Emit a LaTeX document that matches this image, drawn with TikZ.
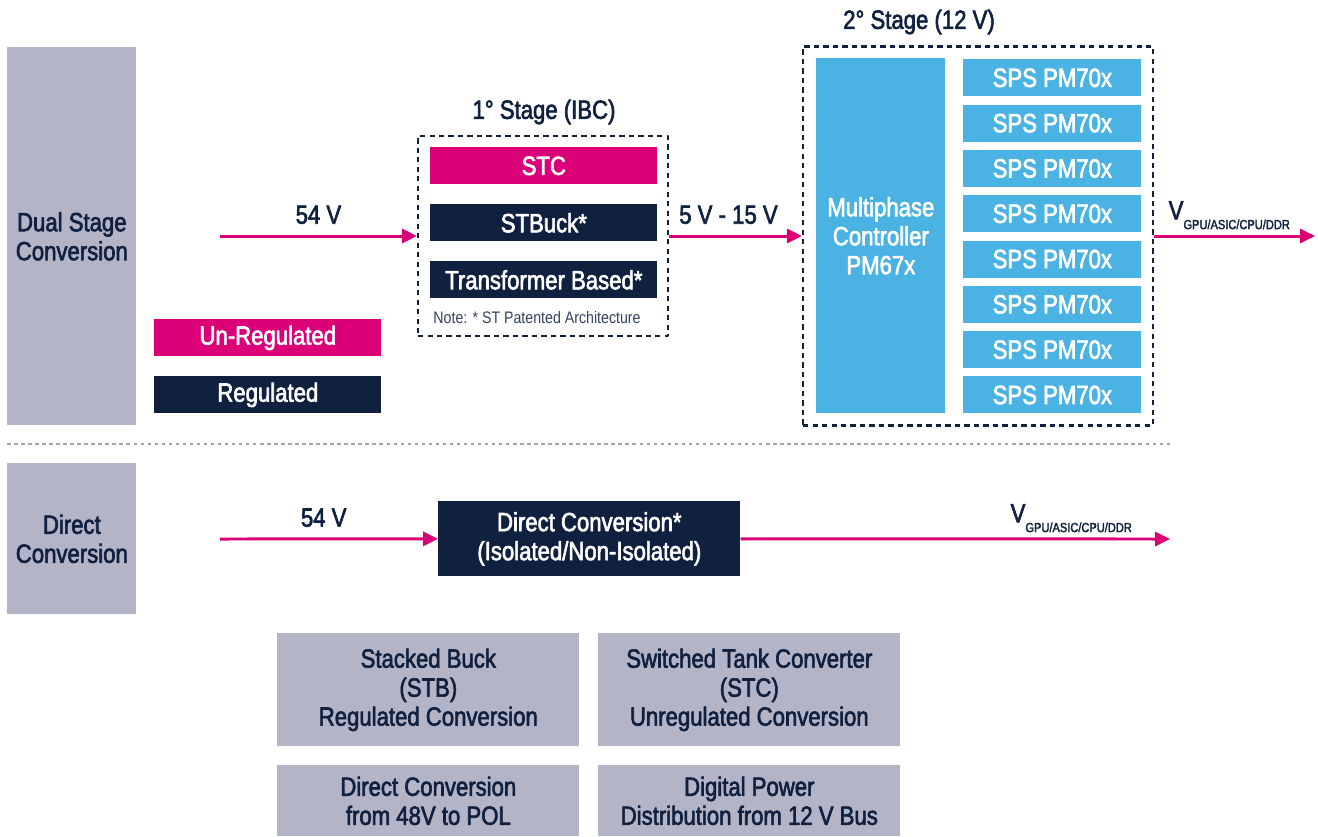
\documentclass[tikz,border=0pt]{standalone}
\usepackage{fontspec}
\setmainfont[FakeStretch=0.84,FakeBold=2.3]{Liberation Sans}
\newfontfamily\notefont[FakeStretch=0.85]{Liberation Sans}
\usetikzlibrary{arrows.meta,positioning}
\definecolor{stgray}{HTML}{B3B4C6}
\definecolor{stpink}{HTML}{DC0078}
\definecolor{stnavy}{HTML}{10213F}
\definecolor{stblue}{HTML}{4BB3E3}
\definecolor{sepgray}{HTML}{A3A3A8}
\begin{document}
\begin{tikzpicture}[x=0.02cm,y=-0.02cm,line join=round,
	txt/.style={font=\fontsize{15}{16.5}\selectfont,text=stnavy,align=center,inner sep=0pt},
	side/.style={txt,fill=stgray,anchor=north west,minimum width=2.58cm},
	bar/.style={txt,text=white,anchor=north west,minimum width=4.54cm,minimum height=0.74cm},
	sps/.style={txt,text=white,fill=stblue,anchor=north west,minimum width=3.56cm,minimum height=0.74cm},
	info/.style={txt,fill=stgray,anchor=north west,minimum width=6.04cm},
	frame/.style={draw=stnavy,line width=1.3pt,dash pattern=on 3pt off 2.4pt,minimum width=#1},
	flow/.style={draw=stpink,line width=1.7pt,-{Triangle[length=8.5pt,width=8pt]}},
	vout/.style={txt,above=3pt}]
	\useasboundingbox (0,0) rectangle (1318,836);
	% left labels
	\node[side,minimum height=7.56cm] (dual) at (7,47) {Dual Stage\\Conversion};
	\node[side,minimum height=3.02cm] (direct) at (7,463) {Direct\\Conversion};
	\draw[sepgray,line width=1.4pt,dash pattern=on 2pt off 2pt] (7,444) -- (1170,444);
	% legend
	\node[bar,fill=stpink] (unreg) at (154,319) {Un-Regulated};
	\node[bar,fill=stnavy] (reg) at (154,376) {Regulated};
	% 1st stage
	\node[frame=5cm,minimum height=4cm] (s1) at (543,236) {};
	\node[txt] (s1title) at (544,112) {1° Stage (IBC)};
	\node[bar,fill=stpink] (stc) at (430,147) {STC};
	\node[bar,fill=stnavy] (stbuck) at (430,204) {STBuck*};
	\node[bar,fill=stnavy] (trafo) at (430,261) {Transformer Based*};
	\node[txt,font=\notefont\fontsize{9.5}{11}\selectfont,text=stnavy!85] (note) at (537,318) {Note: * ST Patented Architecture};
	% 2nd stage
	\node[frame=7cm,minimum height=7.58cm] (s2) at (978,236) {};
	\node[txt] (s2title) at (919,22) {2° Stage (12 V)};
	\node[txt,text=white,fill=stblue,anchor=north west,minimum width=2.58cm,minimum height=7.1cm] (ctrl) at (816,58) {Multiphase\\Controller\\PM67x};
	\foreach \i in {0,...,7}
		\node[sps] (sps\i) at (963,59+45.3*\i) {SPS PM70x};
	% dual stage flow
	\coordinate (in1) at (220,236);
	\coordinate (out1) at (1315,236);
	\draw[flow] (in1) -- (s1.west) node[midway,txt,above=6pt] {54 V};
	\draw[flow] (s1.east) -- (s2.west) node[midway,txt,above=6pt,xshift=-4pt] {5 V - 15 V};
	\draw[flow] (s2.east) -- (out1) node[midway,vout,xshift=-3pt] {V\raisebox{-0.7ex}{\fontsize{7.5}{8}\selectfont GPU/ASIC/CPU/DDR}};
	% direct flow
	\node[txt,text=white,fill=stnavy,anchor=north west,minimum width=6.04cm,minimum height=1.5cm] (dc) at (438,501) {Direct Conversion*\\(Isolated/Non-Isolated)};
	\coordinate (in2) at (220,539);
	\coordinate (out2) at (1170,539);
	\draw[flow] (in2) -- (dc.west) node[midway,txt,above=6pt,xshift=-3pt] {54 V};
	\draw[flow] (dc.east) -- (out2) node[pos=0.77,vout] {V\raisebox{-0.7ex}{\fontsize{7.5}{8}\selectfont GPU/ASIC/CPU/DDR}};
	% bottom notes
	\node[info,minimum height=2.26cm] (stb) at (277,633) {Stacked Buck\\(STB)\\Regulated Conversion};
	\node[info,minimum height=2.26cm] (stcinfo) at (598,633) {Switched Tank Converter\\(STC)\\Unregulated Conversion};
	\node[info,minimum height=1.42cm] (pol) at (277,765) {Direct Conversion\\from 48V to POL};
	\node[info,minimum height=1.42cm] (bus) at (598,765) {Digital Power\\Distribution from 12 V Bus};
\end{tikzpicture}
\end{document}
